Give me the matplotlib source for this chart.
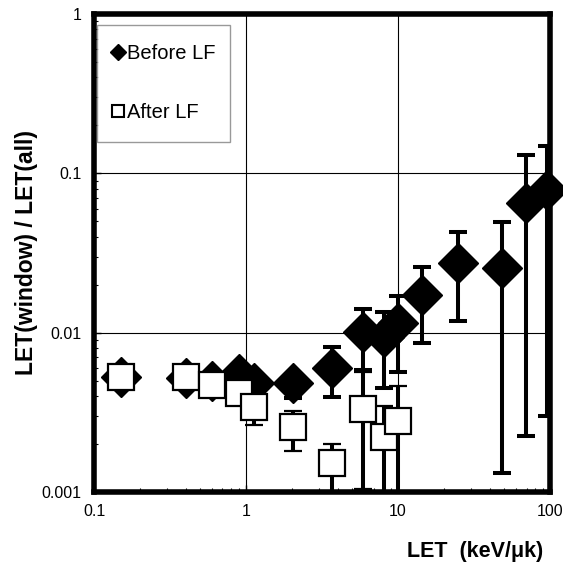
import matplotlib
matplotlib.use("Agg")
import matplotlib.pyplot as plt
from matplotlib.lines import Line2D
import numpy as np

plt.rcParams['font.family'] = ['Liberation Sans', 'DejaVu Sans']

# LET bins (keV/um)
let_x = [0.15, 0.4, 0.6, 0.9, 1.12, 2.05, 3.65, 5.9, 8.1, 10.0, 14.4, 24.8, 48.0, 69.5, 95.5]

# before LF
before = [0.0053, 0.0052, 0.0050, 0.0055, 0.0048, 0.0048, 0.0060, 0.0101, 0.0094, 0.0115,
          0.0172, 0.0273, 0.0254, 0.065, 0.0786]
before_lo = [0.0053, 0.0052, 0.0050, 0.0055, 0.0048, 0.0039, 0.00394, 0.0058, 0.00449, 0.00566,
             0.0086, 0.0118, 0.00131, 0.00224, 0.0030]
before_hi = [0.0053, 0.0052, 0.0050, 0.0055, 0.0048, 0.0053, 0.0081, 0.0141, 0.0135, 0.0170,
             0.0258, 0.0428, 0.0495, 0.130, 0.148]

# after LF (only the first 10 bins)
after_x = let_x[:10]
after = [0.0053, 0.0053, 0.0047, 0.0042, 0.0034, 0.00255, 0.00152, 0.0033, 0.0022, 0.0028]
after_lo = [0.0053, 0.0053, 0.0047, 0.0042, 0.00263, 0.00181, 0.0005, 0.00105, 0.0005, 0.0005]
after_hi = [0.0053, 0.0053, 0.0047, 0.0042, 0.0034, 0.00322, 0.0020, 0.0057, 0.00346, 0.00462]


def err(vals, lo, hi):
    vals = np.array(vals)
    return [vals - np.array(lo), np.array(hi) - vals]


fig = plt.figure(figsize=(5.63, 5.72), dpi=100)
ax = fig.add_axes([0.167, 0.140, 0.810, 0.8355])

eb1 = ax.errorbar(let_x, before, yerr=err(before, before_lo, before_hi), fmt='D', color='black',
                  ms=20.5, elinewidth=2.9, capsize=6.8, capthick=2.9, zorder=2)
eb2 = ax.errorbar(after_x, after, yerr=err(after, after_lo, after_hi), fmt='s', color='black',
                  mfc='white', mec='black', mew=1.6, ms=18.5, elinewidth=2.9, capsize=6.8,
                  capthick=2.9, zorder=3)
# markers are not clipped at the frame (last diamond sticks out)
eb1[0].set_clip_on(False)
eb2[0].set_clip_on(False)

ax.set_xscale('log')
ax.set_yscale('log')
ax.set_xlim(0.1, 100)
ax.set_ylim(0.001, 1)
ax.set_xticks([0.1, 1, 10, 100])
ax.set_xticklabels(['0.1', '1', '10', '100'])
ax.set_yticks([0.001, 0.01, 0.1, 1])
ax.set_yticklabels(['0.001', '0.01', '0.1', '1'])
ax.grid(True, which='major', color='black', linewidth=0.8)
ax.tick_params(which='major', direction='in', length=5, width=1, labelsize=11.5, pad=9)
ax.tick_params(which='minor', direction='in', length=3, width=0.8)
for s in ax.spines.values():
    s.set_linewidth(4)
    s.set_zorder(4)

ax.set_xlabel('LET  (keV/\u03bck)', fontsize=15.5, fontweight='bold')
ax.xaxis.set_label_coords(0.836, -0.103)
ax.set_ylabel('LET(window) / LET(all)', fontsize=16.5, fontweight='bold')
ax.yaxis.set_label_coords(-0.122, 0.5)

# legend with small proxy markers, fixed width box
h1 = Line2D([], [], marker='D', color='black', ls='none', ms=8)
h2 = Line2D([], [], marker='s', color='black', mfc='white', mew=1.5, ls='none', ms=8.5)
leg = ax.legend([h1, h2], ['Before LF', 'After LF'], loc='upper left',
                bbox_to_anchor=(0.0066, 0.738, 0.292, 0.239), mode='expand',
                fontsize=14.5, frameon=True, fancybox=False, edgecolor='gray',
                labelspacing=2.0, borderpad=0.95,
                handlelength=0.2, handletextpad=0.35, borderaxespad=0)
leg.get_frame().set_linewidth(1)

fig.savefig('out.png', dpi=100)
